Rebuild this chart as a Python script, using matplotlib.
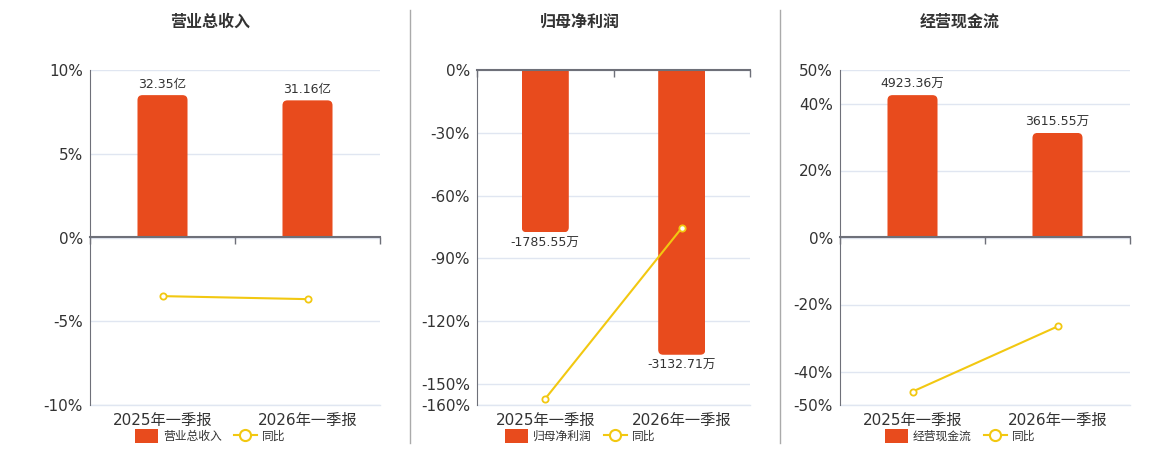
import matplotlib
matplotlib.use("Agg")
import matplotlib.pyplot as plt
from matplotlib.lines import Line2D
from matplotlib.patches import Patch, FancyBboxPatch

plt.rcParams['font.family'] = ['DejaVu Sans', 'Noto Sans CJK SC']
plt.rcParams['axes.unicode_minus'] = False

# data
periods = ['2025年一季报', '2026年一季报']
titles = ['营业总收入', '归母净利润', '经营现金流']
amounts = [
    [32.35, 31.16],
    [-1785.55, -3132.71],
    [4923.36, 3615.55],
]
units = ['亿', '万', '万']
yoy = [
    [-3.5, -3.68],
    [-157.0, -75.45],
    [-46.0, -26.56],
]
pct_ticks = [
    [10, 5, 0, -5, -10],
    [0, -30, -60, -90, -120, -150, -160],
    [50, 40, 20, 0, -20, -40, -50],
]

bar_color = '#e84b1d'
line_color = '#f2c811'
axis_color = '#6e7079'
grid_color = '#e0e6f1'
text_color = '#333333'

W, H = 1160, 450
fig = plt.figure(figsize=(11.6, 4.5), dpi=100)

# axes boxes in pixels: left, right ; panel centres for title/legend
boxes = [(90, 380), (477, 750), (840, 1130)]
centres = [210, 580, 960]
top_px, bottom_px = 70, 405
radius_px = 5

for i in range(3):
    l, r = boxes[i]
    rect = [l / W, 1 - bottom_px / H, (r - l) / W, (bottom_px - top_px) / H]
    ax = fig.add_axes(rect)
    ticks = pct_ticks[i]
    lo, hi = min(ticks), max(ticks)
    ax.set_ylim(lo, hi)
    ax.set_xlim(-0.5, 1.5)
    ax.set_yticks(ticks)
    ax.set_yticklabels([f'{t}%' for t in ticks])
    ax.set_xticks([0, 1])
    ax.set_xticklabels(periods)
    ax.tick_params(axis='both', length=0, labelsize=11, colors=text_color)
    ax.tick_params(axis='y', pad=5)
    ax.tick_params(axis='x', pad=6)
    ax.grid(axis='y', color=grid_color, lw=1)
    ax.axhline(lo, color=grid_color, lw=1, clip_on=False)
    ax.set_axisbelow(True)
    for s in ['top', 'right', 'bottom']:
        ax.spines[s].set_visible(False)
    ax.spines['left'].set_color(axis_color)

    # bars on hidden scale, zero aligned with percent axis
    axb = ax.twinx()
    vals = amounts[i]
    m = max(abs(v) for v in vals) / 0.85
    if hi == 0:
        axb.set_ylim(-m, 0)
    else:
        axb.set_ylim(-m, m)
    bars = axb.bar([0, 1], vals, width=0.345, color=bar_color)
    axb.bar_label(bars, labels=[f'{v:.2f}{units[i]}' for v in vals],
                  padding=3, fontsize=9, color=text_color)
    axb.set_yticks([])
    axb.axis('off')

    # rounded end of each bar, clipped by the plain bar
    ypp = (axb.get_ylim()[1] - axb.get_ylim()[0]) / (bottom_px - top_px)
    xpp = 2.0 / (r - l)
    rx = radius_px * xpp
    aspect = ypp / xpp
    for b in bars:
        x0, w, h = b.get_x(), b.get_width(), b.get_height()
        ext = 2 * radius_px * ypp
        if h >= 0:
            y0, hh = -ext, h + ext
        else:
            y0, hh = h, -h + ext
        rb = FancyBboxPatch((x0, y0), w, hh,
                            boxstyle=f'round,pad=0,rounding_size={rx}',
                            mutation_aspect=aspect, facecolor=bar_color,
                            edgecolor='none')
        axb.add_patch(rb)
        rb.set_clip_path(b)
        b.set_alpha(0)

    # yoy line on top
    axl = ax.twinx()
    axl.set_ylim(lo, hi)
    axl.plot([0, 1], yoy[i], color=line_color, lw=1.5, marker='o',
             markersize=4.5, markerfacecolor='white', markeredgewidth=1.3,
             clip_on=False)
    axl.set_yticks([])
    for s in axl.spines.values():
        s.set_visible(False)

    # zero line with category boundary ticks
    loc = 'top' if hi == 0 else 0.5
    sec = axl.secondary_xaxis(loc)
    sec.set_xticks([-0.5, 0.5, 1.5])
    sec.set_xticklabels([])
    sec.tick_params(direction='in', length=5, color=axis_color, width=1)
    sec.spines['top'].set_color(axis_color)
    sec.spines['top'].set_linewidth(1.5)
    sec.spines['bottom'].set_visible(False)

    cx = centres[i] / W
    fig.text(cx, 1 - 22 / H, titles[i], ha='center', va='center',
             fontsize=11.5, fontweight='bold', color=text_color)
    handles = [Patch(facecolor=bar_color),
               Line2D([], [], color=line_color, lw=1.5, marker='o', markersize=8,
                      markerfacecolor='white', markeredgewidth=1.5)]
    fig.legend(handles, [titles[i], '同比'], loc='center',
               bbox_to_anchor=(cx, 1 - 436 / H), ncol=2, frameon=False,
               fontsize=8.5, handlelength=2.0, handleheight=1.4,
               handletextpad=0.4, columnspacing=1.0, labelcolor=text_color)

# panel separators
for x in [410, 780]:
    fig.add_artist(Line2D([x / W, x / W], [1 - 10 / H, 1 - 443 / H],
                          transform=fig.transFigure, color='#aaaaaa', lw=1))

fig.savefig('out.png', dpi=100)
